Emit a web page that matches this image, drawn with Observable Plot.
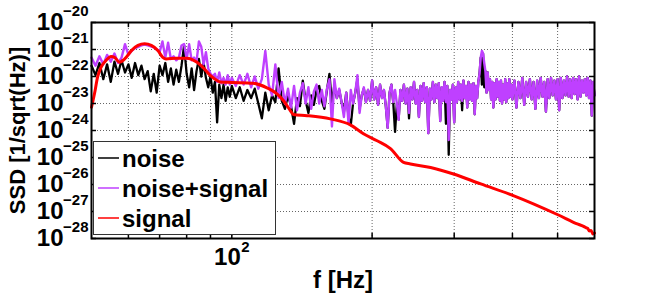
<!DOCTYPE html>
<html><head><meta charset="utf-8">
<script src="https://cdn.jsdelivr.net/npm/d3@7"></script>
<script src="https://cdn.jsdelivr.net/npm/@observablehq/plot@0.6"></script>
<style>body{margin:0;background:#fff;}</style>
</head><body><div id="chart"></div>
<script>
// ---- labels & axes ----
const xLabel = "f [Hz]";
const yLabel = "SSD [1/sqrt(Hz)]";
const seriesNames = ["noise", "noise+signal", "signal"];
const seriesColors = ["#000000", "#bf40ff", "#ff0000"];
const xDomain = [50, 600];
const yExpTicks = [-20, -21, -22, -23, -24, -25, -26, -27, -28];
const xGridTicks = [60, 70, 80, 90, 100, 200, 300, 400, 500];
const xLabelTick = 100, xLabelBase = "10", xLabelExp = "2";

// ---- data: [frequency Hz, log10 SSD] ----
// noise+signal (purple)
const noiseSignal = [
[50,-21.3],[51,-21.6],[52,-21.25],[53,-21.55],[54,-21.2],[55,-21.45],[56,-21.15],[57,-21.5],[58,-21.3],[59,-20.8],
[60,-21.2],[61,-21.05],[62,-20.95],[63,-20.9],[64,-20.85],[65,-20.82],[66,-20.85],[67,-20.88],[68,-20.92],[69,-21.0],
[70,-21.1],[71,-20.7],[72,-21.3],[73,-20.75],[74,-21.35],[75,-21.25],[76,-21.4],[77,-21.3],[78,-20.85],[79,-20.8],
[80,-21.35],[81,-20.8],[82,-21.4],[83,-21.3],[84,-21.45],[85,-20.7],[86,-20.9],[87,-21.55],[88,-21.1],[89,-21.7],
[90,-21.9],[91,-22.0],[92,-21.9],[93,-22.2],[94,-21.85],[95,-22.25],[96,-22.05],[97,-22.3],[98,-21.95],[99,-22.3],
[100,-22.05],[102,-22.35],[104,-21.95],[106,-22.3],[108,-21.9],[110,-22.4],[112,-22.0],[114,-22.45],[116,-22.1],[118,-21.05],
[120,-22.3],[122,-22.7],[124,-21.55],[126,-22.8],[128,-22.2],[130,-23.0],[132,-22.45],[134,-23.15],[136,-22.35],[138,-23.25],
[140,-22.6],[142,-22.25],[144,-23.0],[146,-22.4],[148,-23.2],[150,-22.55],[152,-22.3],[154,-23.0],[156,-22.5],[158,-23.1],
[160,-22.45],[162,-22.1],[164,-23.85],[166,-22.1],[168,-22.8],[170,-22.45],[172,-22.95],[174,-23.5],[176,-22.6],[178,-23.75],
[180,-22.5],[182,-23.0],[184,-22.6],[186,-21.95],[188,-23.35],[190,-22.7],[192,-22.4],[194,-22.95],[196,-22.5],[198,-22.9],
[200,-22.15],[202,-22.85],[204,-22.4],[206,-23.05],[208,-22.3],[210,-22.8],[212,-22.5],[214,-23.1],[216,-23.9],[218,-22.6],
[220,-22.3],[222,-22.95],[224,-22.5],[226,-23.0],[228,-23.6],[230,-22.5],[232,-22.9],[234,-22.3],[236,-23.0],[238,-22.45],
[240,-23.35],[242,-22.4],[244,-22.85],[246,-22.2],[248,-23.0],[250,-22.5],[252,-23.5],[254,-22.35],[256,-22.9],[258,-22.25],
[260,-22.95],[262,-22.4],[264,-24.1],[266,-22.45],[268,-22.85],[270,-22.2],[272,-22.95],[274,-22.3],[276,-22.8],[278,-22.25],
[280,-23.65],[282,-22.4],[284,-22.9],[286,-22.2],[288,-22.95],[290,-22.35],[292,-24.35],[294,-22.5],[296,-22.85],[298,-22.3],
[300,-23.7],[302,-22.4],[304,-22.95],[306,-22.2],[308,-22.85],[310,-22.3],[312,-22.9],[314,-22.15],[316,-22.8],[318,-22.35],
[320,-23.15],[322,-22.2],[324,-22.85],[326,-22.3],[328,-22.9],[330,-22.25],[332,-23.4],[334,-22.35],[336,-22.8],[338,-22.2],
[340,-21.9],[342,-21.3],[344,-21.05],[346,-21.15],[348,-21.5],[350,-21.8],[352,-22.6],[354,-21.85],[356,-22.5],[358,-22.1],
[360,-22.85],[362,-22.2],[364,-23.15],[366,-22.25],[368,-22.85],[370,-22.1],[372,-22.75],[374,-22.2],[376,-22.9],[378,-22.15],
[380,-23.0],[382,-22.3],[384,-22.85],[386,-22.1],[388,-22.95],[390,-22.25],[392,-22.8],[394,-22.1],[396,-22.75],[398,-22.3],
[400,-22.85],[404,-22.15],[408,-23.15],[412,-22.2],[416,-22.8],[420,-22.05],[424,-23.05],[428,-22.2],[432,-22.75],[436,-22.1],
[440,-22.85],[444,-22.2],[448,-23.2],[452,-22.15],[456,-22.8],[460,-22.05],[464,-22.75],[468,-22.2],[472,-23.3],[476,-22.1],
[480,-22.8],[484,-22.05],[488,-22.7],[492,-22.15],[496,-22.85],[500,-22.1],[504,-23.25],[508,-22.05],[512,-22.8],[516,-22.15],
[520,-22.7],[524,-22.0],[528,-22.75],[532,-22.1],[536,-22.8],[540,-22.05],[544,-22.65],[548,-22.1],[552,-22.85],[556,-22.0],
[560,-22.75],[564,-22.15],[568,-22.6],[572,-22.1],[576,-22.7],[580,-22.05],[584,-22.8],[588,-22.15],[592,-23.45],[596,-22.2],
[600,-22.7]
];
// noise (black), low-frequency part where it separates from noise+signal
const noiseLow = [
[50,-21.6],[51,-21.95],[52,-21.5],[53,-22.1],[54,-21.55],[55,-22.2],[56,-21.45],[57,-21.9],[58,-21.4],[59,-21.85],
[60,-21.55],[61,-22.05],[62,-21.5],[63,-21.95],[64,-21.6],[65,-22.1],[66,-21.8],[67,-22.55],[68,-21.9],[69,-22.6],
[70,-21.6],[71,-21.95],[72,-21.5],[73,-22.2],[74,-21.7],[75,-22.3],[76,-21.75],[77,-22.2],[78,-21.6],[79,-20.85],
[80,-21.9],[81,-22.4],[82,-21.7],[83,-22.5],[84,-21.8],[85,-21.35],[86,-22.0],[87,-21.5],[88,-22.05],[89,-22.4],
[90,-22.0],[91,-22.6],[92,-22.2],[93,-23.7],[94,-22.3],[95,-22.8],[96,-22.3],[97,-22.9],[98,-22.4],[99,-22.75],
[100,-22.35],[102,-22.8],[104,-22.4],[106,-22.9],[108,-22.5],[110,-22.8],[112,-22.45],[114,-23.0],[116,-23.55],[118,-22.6],
[120,-23.25],[122,-22.7],[124,-22.95],[126,-21.7],[128,-22.9],[130,-23.2],[132,-22.7],[134,-23.1],[136,-23.75],[138,-22.8],
[140,-23.1],[142,-22.15],[144,-22.9],[146,-23.35],[148,-22.7],[150,-23.05],[152,-22.5],[154,-22.35],[156,-22.9],[158,-23.2],
[160,-22.5],[162,-21.9],[164,-23.0],[166,-22.3],[168,-22.8],[170,-22.5],[172,-22.95],[174,-23.3],[176,-22.6],[178,-23.5],
[180,-23.8],[182,-23.0],[184,-22.6],[186,-22.1],[188,-23.2],[190,-22.7],[192,-22.45],[194,-22.95],[196,-22.5],[198,-22.9]
];
// noise (black) above 200 Hz follows noise+signal, except where it dips below it
const noiseDips = [[224,-24.05],[240,-23.55],[288,-23.75],[292,-24.9],[312,-23.25],[344,-22.3],[348,-22.4]];
// signal (red)
const signal = [
[50,-23.14],[50.9,-22.52],[51.5,-22.03],[52.4,-21.66],[53.7,-21.41],[55.1,-21.26],[56,-21.29],[57.4,-21.47],[58.9,-21.35],
[60.9,-21.04],[62.9,-20.85],[65,-20.79],[67.2,-20.85],[69.4,-21.04],[71.1,-21.29],[72.3,-21.35],[76,-21.32],[80,-21.32],
[84.2,-21.47],[86.7,-21.66],[90,-21.97],[93,-22.15],[94.4,-22.2],[100,-22.22],[111,-22.25],[119,-22.42],[125,-22.64],
[129,-22.89],[133.5,-23.26],[135.5,-23.41],[145,-23.45],[162.7,-23.57],[180,-23.8],[191.6,-24.12],[205,-24.38],[219,-24.67],
[233.6,-25.18],[241.7,-25.24],[267,-25.37],[299,-25.61],[342,-25.98],[403,-26.42],[500.7,-27.12],[553,-27.47],
[570,-27.56],[575,-27.6],[580,-27.62],[585,-27.72],[590,-27.7],[595,-27.83],[600,-27.8]
];

// ---- build tables ----
const dipMap = new Map(noiseDips);
const noise = noiseLow.concat(noiseSignal.filter(d => d[0] >= 200).map(d => [d[0], dipMap.has(d[0]) ? dipMap.get(d[0]) : d[1]]));
const yTicks = yExpTicks.map(e => 10 ** e);
const yDomain = [10 ** d3.min(yExpTicks), 10 ** d3.max(yExpTicks)];
const acc = {x: d => d[0], y: d => 10 ** d[1]};
const font = "'Liberation Sans', Arial, Helvetica, sans-serif";

const chart = Plot.plot({
  width: 656, height: 300,
  marginLeft: 91, marginRight: 62, marginTop: 22, marginBottom: 62,
  style: {fontFamily: font, background: "#fff", overflow: "visible"},
  x: {type: "log", domain: xDomain, axis: null},
  y: {type: "log", domain: yDomain, axis: null},
  marks: [
    Plot.gridX(xGridTicks, {stroke: "#666", strokeOpacity: 1, strokeDasharray: "1,2"}),
    Plot.gridY(yTicks, {stroke: "#666", strokeOpacity: 1, strokeDasharray: "1,2"}),
    Plot.line(noise, {...acc, stroke: seriesColors[0], strokeWidth: 2.3}),
    Plot.line(noiseSignal, {...acc, stroke: seriesColors[1], strokeWidth: 2.4}),
    Plot.line(signal, {...acc, stroke: seriesColors[2], strokeWidth: 3, curve: "monotone-x"}),
    // inward ticks
    Plot.ruleY(yTicks, {x1: xDomain[0], x2: xDomain[0] * 1.025, stroke: "#000", strokeWidth: 1.5}),
    Plot.ruleY(yTicks, {x1: xDomain[1] / 1.025, x2: xDomain[1], stroke: "#000", strokeWidth: 1.5}),
    Plot.ruleX(xGridTicks, {y1: yDomain[0], y2: yDomain[0] * 1.55, stroke: "#000", strokeWidth: 1.5}),
    Plot.ruleX(xGridTicks, {y1: yDomain[1] / 1.55, y2: yDomain[1], stroke: "#000", strokeWidth: 1.5}),
    Plot.frame({stroke: "#000", strokeWidth: 2}),
    // y tick labels 10^e
    Plot.text(yExpTicks, {y: e => 10 ** e, frameAnchor: "left", dx: -28, text: () => "10", textAnchor: "end", fontSize: 24, fontWeight: "bold", fill: "#000"}),
    Plot.text(yExpTicks, {y: e => 10 ** e, frameAnchor: "left", dx: -3, dy: -11, text: e => "\u2212" + Math.abs(e), textAnchor: "end", fontSize: 15, fontWeight: "bold", fill: "#000"}),
    // x tick label 10^2
    Plot.text([xLabelTick], {x: d => d, frameAnchor: "bottom", dx: 9, dy: 26, text: () => xLabelBase, textAnchor: "end", fontSize: 24, fontWeight: "bold", fill: "#000"}),
    Plot.text([xLabelTick], {x: d => d, frameAnchor: "bottom", dx: 9.5, dy: 13, text: () => xLabelExp, textAnchor: "start", fontSize: 15, fontWeight: "bold", fill: "#000"}),
    // axis titles
    Plot.text([xLabel], {frameAnchor: "bottom", dy: 49, text: d => d, textAnchor: "middle", fontSize: 24, fontWeight: "bold", fill: "#000"}),
    Plot.text([yLabel], {frameAnchor: "left", dx: -74, rotate: -90, text: d => d, textAnchor: "middle", fontSize: 22, fontWeight: "bold", fill: "#000"})
  ]
});
document.getElementById("chart").appendChild(chart);

// ---- legend ----
const svg = d3.select(chart);
const lg = svg.append("g").attr("font-family", font).attr("text-anchor", "start");
lg.append("rect").attr("x", 93.5).attr("y", 141.5).attr("width", 182).attr("height", 93)
  .attr("fill", "#fff").attr("stroke", "#333").attr("stroke-width", 1);
const rowY = [158, 188, 218];
seriesNames.forEach((name, i) => {
  lg.append("line").attr("x1", 98).attr("x2", 119).attr("y1", rowY[i]).attr("y2", rowY[i])
    .attr("stroke", seriesColors[i]).attr("stroke-width", 1.5);
  lg.append("text").attr("x", 122).attr("y", rowY[i] + 8.5).attr("text-anchor", "start")
    .attr("font-size", 24).attr("font-weight", "bold").attr("fill", "#000").text(name);
});
</script></body></html>
